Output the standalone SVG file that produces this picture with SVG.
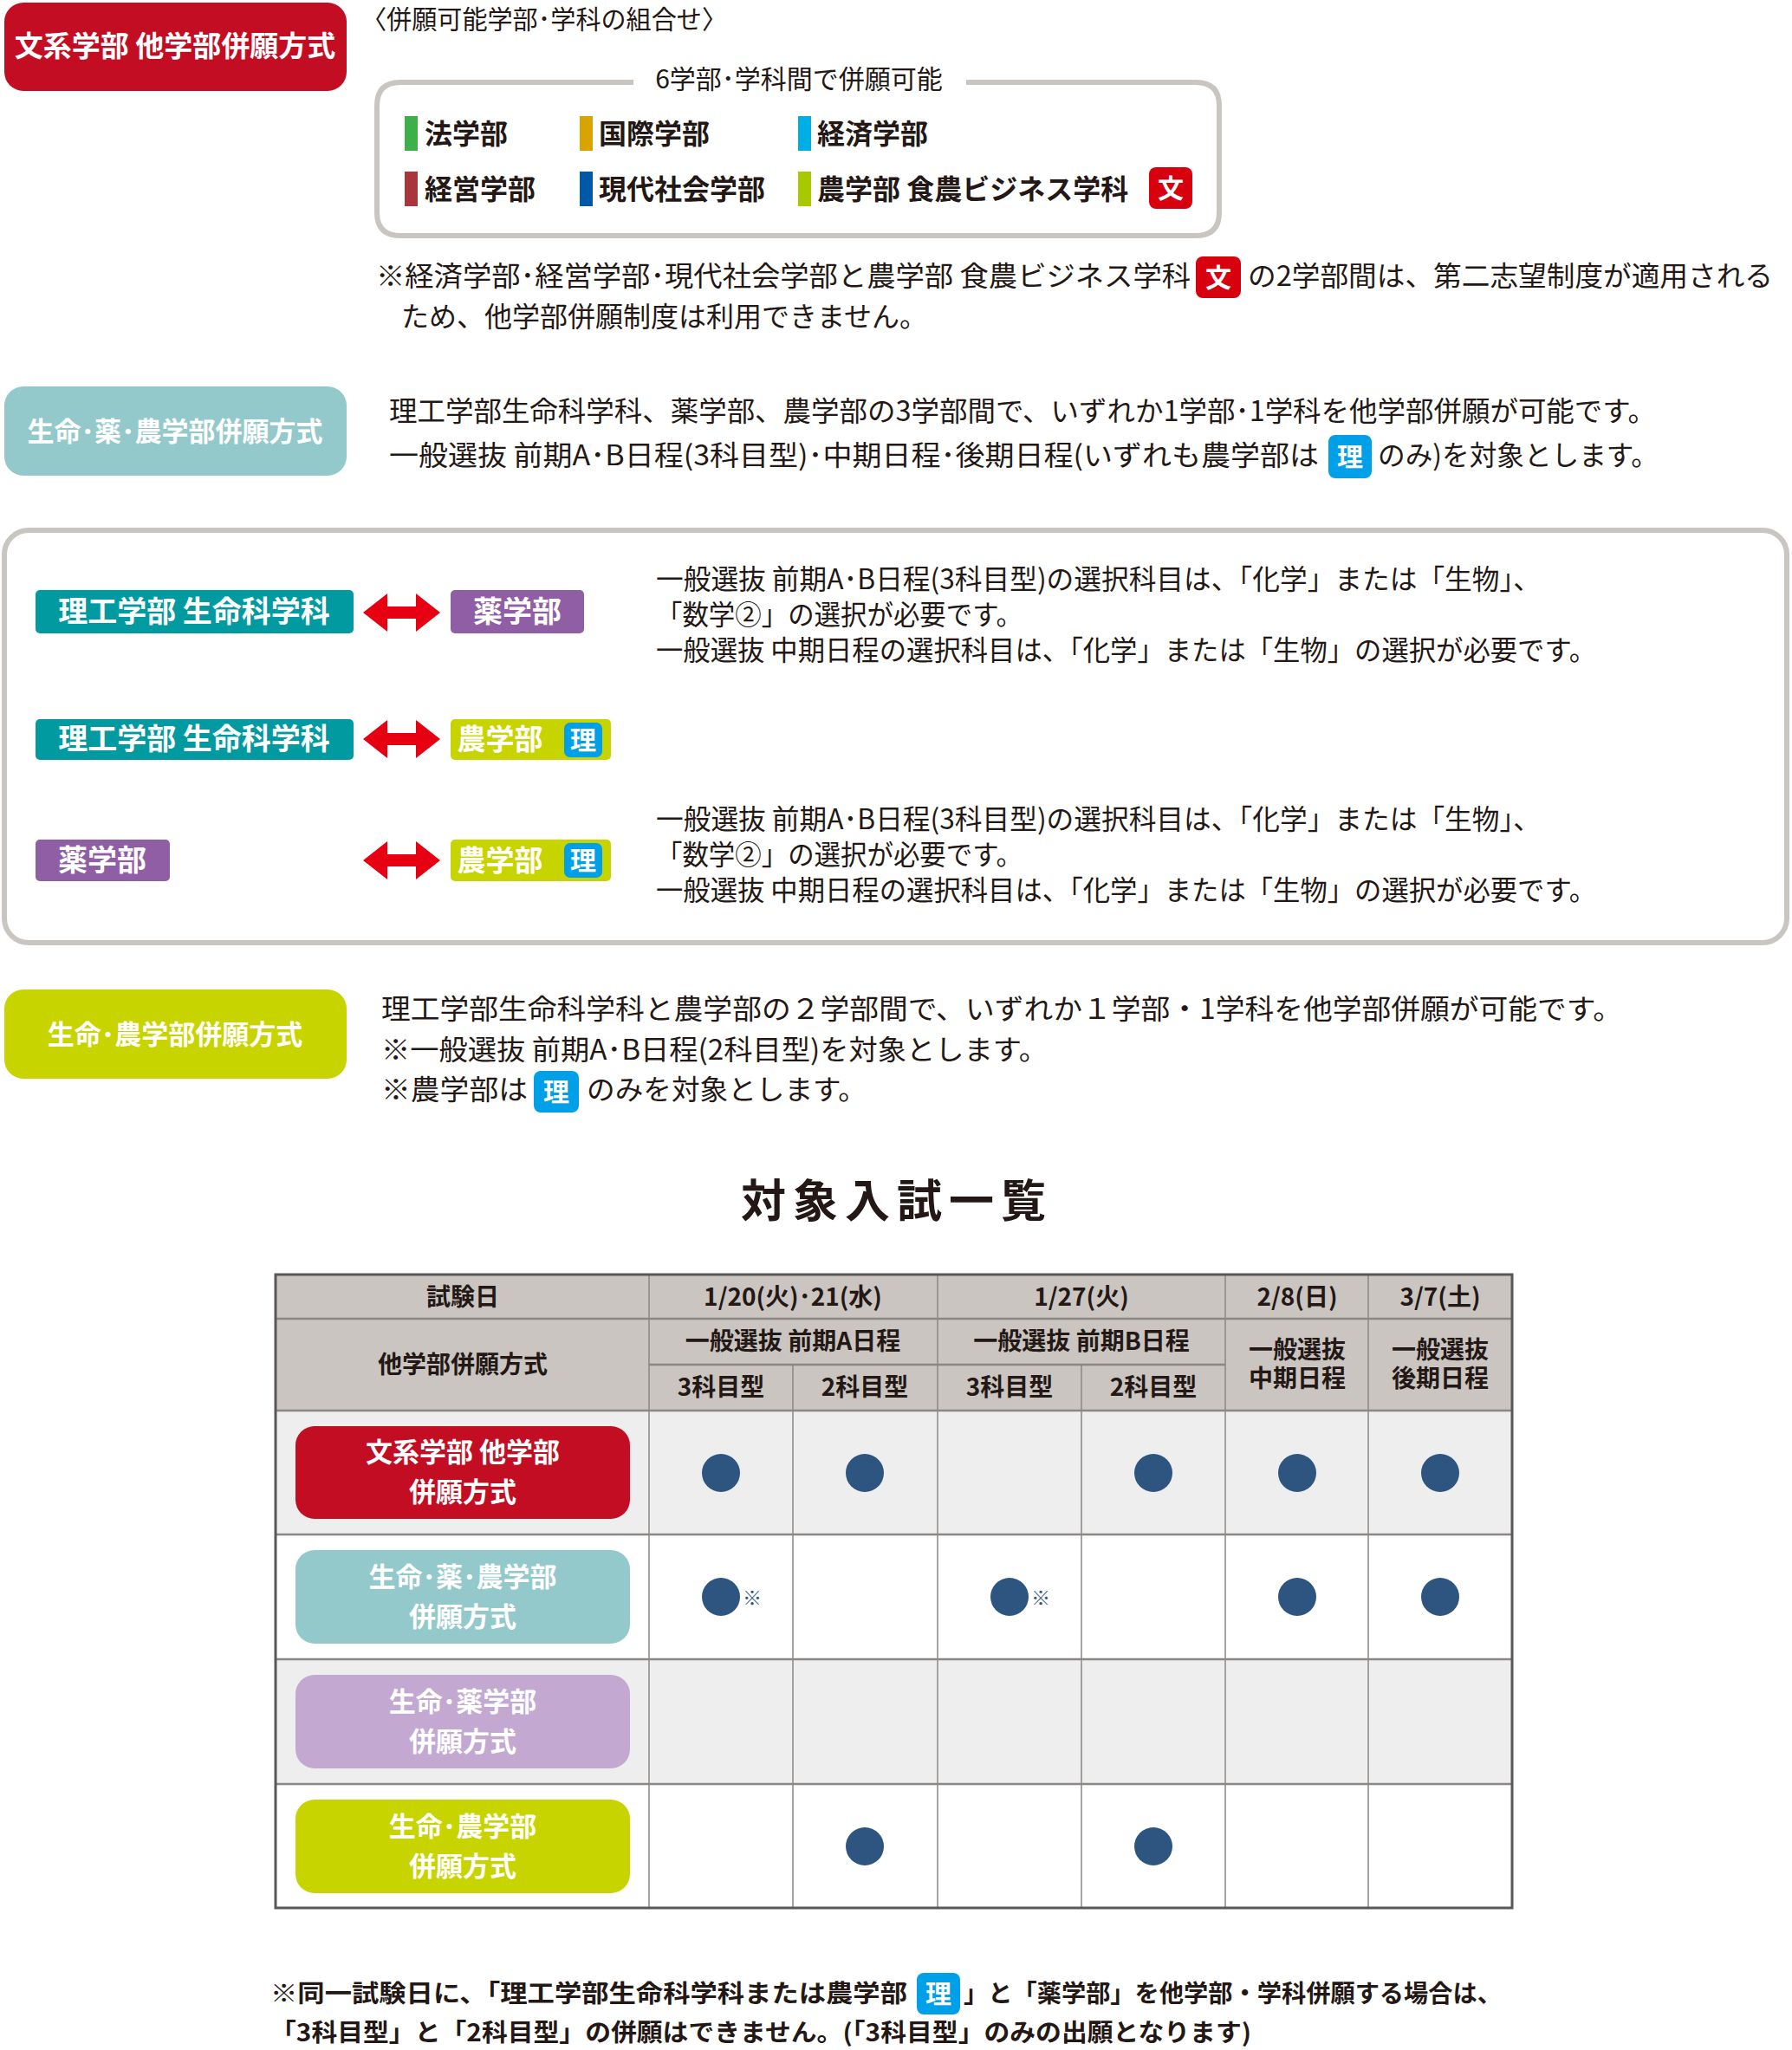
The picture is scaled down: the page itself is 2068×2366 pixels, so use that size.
<svg xmlns="http://www.w3.org/2000/svg" width="2068" height="2366" viewBox="0 0 2068 2366">
<style>
text{font-family:"Noto Sans CJK JP","Noto Sans",sans-serif;fill:#231815}
.w{fill:#fff;font-weight:700}
.b{font-weight:700}
.t{font-size:32px}
.h{font-size:28px;font-weight:700;text-anchor:middle}
.bd{fill:#fff;font-weight:700;font-size:30px;text-anchor:middle}
.dot{fill:#2d5580}
</style>
<defs>
<path id="arr" d="M0,0 L28,-22 L28,-7 L61,-7 L61,-22 L89,0 L61,22 L61,7 L28,7 L28,22 Z" fill="#e60012"/>
</defs>
<rect width="2068" height="2366" fill="#fff"/>

<g id="bunkei">
<rect x="5" y="3" width="395" height="102" rx="22" fill="#c30d23"/>
<text class="w" x="202" y="65" font-size="33" text-anchor="middle">文系学部 他学部併願方式</text>
<text x="417" y="33" font-size="30" textLength="422" lengthAdjust="spacingAndGlyphs">〈併願可能学部･学科の組合せ〉</text>
<path d="M731,95 L462,95 Q435,95 435,122 L435,245 Q435,272 462,272 L1380,272 Q1407,272 1407,245 L1407,122 Q1407,95 1380,95 L1115,95" fill="none" stroke="#c9c5c1" stroke-width="6"/>
<text x="922" y="102" font-size="30" text-anchor="middle">6学部･学科間で併願可能</text>
<rect x="467" y="134" width="15" height="40" fill="#3db049"/><text class="b" x="490" y="166" font-size="32">法学部</text>
<rect x="669" y="134" width="15" height="40" fill="#d9a400"/><text class="b" x="691" y="166" font-size="32">国際学部</text>
<rect x="921" y="134" width="15" height="40" fill="#00aee6"/><text class="b" x="943" y="166" font-size="32">経済学部</text>
<rect x="467" y="198" width="15" height="40" fill="#a8373b"/><text class="b" x="490" y="230" font-size="32">経営学部</text>
<rect x="669" y="198" width="15" height="40" fill="#0058a8"/><text class="b" x="691" y="230" font-size="32">現代社会学部</text>
<rect x="921" y="198" width="15" height="40" fill="#a8c800"/><text class="b" x="943" y="230" font-size="32">農学部 食農ビジネス学科</text>
<rect x="1326" y="193" width="50" height="48" rx="8" fill="#d7000f"/><text class="bd" x="1351" y="228" font-size="32">文</text>
<text class="t" x="434" y="330" textLength="940" lengthAdjust="spacingAndGlyphs">※経済学部･経営学部･現代社会学部と農学部 食農ビジネス学科</text>
<rect x="1380" y="296" width="52" height="48" rx="8" fill="#d7000f"/><text class="bd" x="1406" y="331" font-size="32">文</text>
<text class="t" x="1440" y="330" textLength="606" lengthAdjust="spacingAndGlyphs">の2学部間は、第二志望制度が適用される</text>
<text class="t" x="463" y="377" textLength="607" lengthAdjust="spacingAndGlyphs">ため、他学部併願制度は利用できません。</text>
</g>

<g id="seimei-yaku-no">
<rect x="5" y="446" width="395" height="103" rx="22" fill="#94c9cb"/>
<text class="w" x="202" y="509" font-size="31" text-anchor="middle">生命･薬･農学部併願方式</text>
<text class="t" x="449" y="486" textLength="1462" lengthAdjust="spacingAndGlyphs">理工学部生命科学科、薬学部、農学部の3学部間で、いずれか1学部･1学科を他学部併願が可能です。</text>
<text class="t" x="449" y="537" textLength="1073" lengthAdjust="spacingAndGlyphs">一般選抜 前期A･B日程(3科目型)･中期日程･後期日程(いずれも農学部は</text>
<rect x="1533" y="502" width="50" height="50" rx="8" fill="#00a0e9"/><text class="bd" x="1558" y="538" font-size="32">理</text>
<text class="t" x="1590" y="537" textLength="324" lengthAdjust="spacingAndGlyphs">のみ)を対象とします。</text>
</g>

<g id="pairs">
<rect x="5" y="612" width="2057" height="476" rx="28" fill="none" stroke="#c9c5c1" stroke-width="6"/>
<rect x="41" y="681" width="367" height="50" rx="5" fill="#009aa0"/><text class="w" x="224" y="718" font-size="34" text-anchor="middle">理工学部 生命科学科</text>
<rect x="520" y="681" width="154" height="50" rx="5" fill="#8f5ea4"/><text class="w" x="597" y="718" font-size="34" text-anchor="middle">薬学部</text>
<text class="t" x="757" y="680" textLength="1021" lengthAdjust="spacingAndGlyphs">一般選抜 前期A･B日程(3科目型)の選択科目は、「化学」または「生物」、</text>
<text class="t" x="757" y="721" textLength="423" lengthAdjust="spacingAndGlyphs">「数学②」の選択が必要です。</text>
<text class="t" x="757" y="762" textLength="1085" lengthAdjust="spacingAndGlyphs">一般選抜 中期日程の選択科目は、「化学」または「生物」の選択が必要です。</text>

<rect x="41" y="830" width="367" height="47" rx="5" fill="#009aa0"/><text class="w" x="224" y="865" font-size="34" text-anchor="middle">理工学部 生命科学科</text>
<rect x="520" y="830" width="185" height="47" rx="5" fill="#c8d400"/><text class="w" x="577" y="865" font-size="33" text-anchor="middle">農学部</text>
<rect x="651" y="834" width="44" height="40" rx="7" fill="#00a0e9"/><text class="bd" x="673" y="865" font-size="30">理</text>

<rect x="41" y="969" width="155" height="48" rx="5" fill="#8f5ea4"/><text class="w" x="118" y="1005" font-size="34" text-anchor="middle">薬学部</text>
<rect x="520" y="969" width="185" height="48" rx="5" fill="#c8d400"/><text class="w" x="577" y="1005" font-size="33" text-anchor="middle">農学部</text>
<rect x="651" y="973" width="44" height="40" rx="7" fill="#00a0e9"/><text class="bd" x="673" y="1004" font-size="30">理</text>
<text class="t" x="757" y="957" textLength="1021" lengthAdjust="spacingAndGlyphs">一般選抜 前期A･B日程(3科目型)の選択科目は、「化学」または「生物」、</text>
<text class="t" x="757" y="998" textLength="423" lengthAdjust="spacingAndGlyphs">「数学②」の選択が必要です。</text>
<text class="t" x="757" y="1039" textLength="1085" lengthAdjust="spacingAndGlyphs">一般選抜 中期日程の選択科目は、「化学」または「生物」の選択が必要です。</text>
</g>

<g id="connectors">
<use href="#arr" x="419" y="707"/>
<use href="#arr" x="419" y="853"/>
<use href="#arr" x="419" y="993"/>
</g>

<g id="seimei-no">
<rect x="5" y="1142" width="395" height="103" rx="22" fill="#c8d400"/>
<text class="w" x="202" y="1205" font-size="31" text-anchor="middle">生命･農学部併願方式</text>
<text class="t" x="440" y="1176" textLength="1432" lengthAdjust="spacingAndGlyphs">理工学部生命科学科と農学部の２学部間で、いずれか１学部・1学科を他学部併願が可能です。</text>
<text class="t" x="440" y="1223" textLength="769" lengthAdjust="spacingAndGlyphs">※一般選抜 前期A･B日程(2科目型)を対象とします。</text>
<text class="t" x="440" y="1269" textLength="169" lengthAdjust="spacingAndGlyphs">※農学部は</text>
<rect x="616" y="1236" width="52" height="48" rx="8" fill="#00a0e9"/><text class="bd" x="642" y="1271" font-size="32">理</text>
<text class="t" x="677" y="1269" textLength="323" lengthAdjust="spacingAndGlyphs">のみを対象とします。</text>
</g>

<g id="table">
<text class="b" x="1035" y="1405" font-size="52" text-anchor="middle" letter-spacing="8">対象入試一覧</text>
<rect x="318" y="1471" width="1427" height="157" fill="#cac5c0"/>
<rect x="318" y="1628" width="1427" height="143" fill="#eeeeee"/>
<rect x="318" y="1915" width="1427" height="144" fill="#eeeeee"/>
<g stroke="#8a8784" stroke-width="1.5">
<line x1="749" y1="1471" x2="749" y2="2202"/>
<line x1="915" y1="1575" x2="915" y2="2202"/>
<line x1="1082" y1="1471" x2="1082" y2="2202"/>
<line x1="1248" y1="1575" x2="1248" y2="2202"/>
<line x1="1414" y1="1471" x2="1414" y2="2202"/>
<line x1="1579" y1="1471" x2="1579" y2="2202"/>
<line x1="749" y1="1575" x2="1414" y2="1575" stroke-width="2.5"/>
<line x1="318" y1="1522" x2="1745" y2="1522" stroke-width="2.5"/>
<line x1="318" y1="1628" x2="1745" y2="1628" stroke-width="2.5"/>
<line x1="318" y1="1771" x2="1745" y2="1771" stroke-width="2.5"/>
<line x1="318" y1="1915" x2="1745" y2="1915" stroke-width="2.5"/>
<line x1="318" y1="2059" x2="1745" y2="2059" stroke-width="2.5"/>
</g>
<rect x="318" y="1471" width="1427" height="731" fill="none" stroke="#5a5856" stroke-width="3"/>
<text class="h" x="534" y="1507">試験日</text>
<text class="h" x="915" y="1507">1/20(火)･21(水)</text>
<text class="h" x="1248" y="1507">1/27(火)</text>
<text class="h" x="1497" y="1507">2/8(日)</text>
<text class="h" x="1662" y="1507">3/7(土)</text>
<text class="h" x="534" y="1585">他学部併願方式</text>
<text class="h" x="915" y="1558">一般選抜 前期A日程</text>
<text class="h" x="1248" y="1558">一般選抜 前期B日程</text>
<text class="h" x="832" y="1611">3科目型</text>
<text class="h" x="998" y="1611">2科目型</text>
<text class="h" x="1165" y="1611">3科目型</text>
<text class="h" x="1331" y="1611">2科目型</text>
<text class="h" x="1497" y="1568" font-size="27">一般選抜</text><text class="h" x="1497" y="1601" font-size="27">中期日程</text>
<text class="h" x="1662" y="1568" font-size="27">一般選抜</text><text class="h" x="1662" y="1601" font-size="27">後期日程</text>
</g>

<g id="row-bunkei">
<rect x="341" y="1646" width="386" height="107" rx="22" fill="#c30d23"/>
<text class="w" x="534" y="1687" font-size="31" text-anchor="middle">文系学部 他学部</text>
<text class="w" x="534" y="1733" font-size="31" text-anchor="middle">併願方式</text>
<circle class="dot" cx="832" cy="1700" r="22"/><circle class="dot" cx="998" cy="1700" r="22"/><circle class="dot" cx="1331" cy="1700" r="22"/><circle class="dot" cx="1497" cy="1700" r="22"/><circle class="dot" cx="1662" cy="1700" r="22"/>
</g>
<g id="row-seimei-yaku-no">
<rect x="341" y="1789" width="386" height="108" rx="22" fill="#94c9cb"/>
<text class="w" x="534" y="1831" font-size="31" text-anchor="middle">生命･薬･農学部</text>
<text class="w" x="534" y="1877" font-size="31" text-anchor="middle">併願方式</text>
<circle class="dot" cx="832" cy="1843" r="22"/><text x="857" y="1852" font-size="22" style="fill:#2d5580">※</text>
<circle class="dot" cx="1165" cy="1843" r="22"/><text x="1190" y="1852" font-size="22" style="fill:#2d5580">※</text>
<circle class="dot" cx="1497" cy="1843" r="22"/><circle class="dot" cx="1662" cy="1843" r="22"/>
</g>
<g id="row-seimei-yaku">
<rect x="341" y="1933" width="386" height="108" rx="22" fill="#c3a9d1"/>
<text class="w" x="534" y="1975" font-size="31" text-anchor="middle">生命･薬学部</text>
<text class="w" x="534" y="2021" font-size="31" text-anchor="middle">併願方式</text>
</g>
<g id="row-seimei-no">
<rect x="341" y="2077" width="386" height="108" rx="22" fill="#c8d400"/>
<text class="w" x="534" y="2119" font-size="31" text-anchor="middle">生命･農学部</text>
<text class="w" x="534" y="2165" font-size="31" text-anchor="middle">併願方式</text>
<circle class="dot" cx="998" cy="2131" r="22"/><circle class="dot" cx="1331" cy="2131" r="22"/>
</g>

<g id="footnote">
<text class="b" x="312" y="2311" font-size="28" textLength="735" lengthAdjust="spacingAndGlyphs">※同一試験日に、「理工学部生命科学科または農学部</text>
<rect x="1058" y="2277" width="50" height="48" rx="8" fill="#00a0e9"/><text class="bd" x="1083" y="2312" font-size="32">理</text>
<text class="b" x="1112" y="2311" font-size="28" textLength="621" lengthAdjust="spacingAndGlyphs">」と「薬学部」を他学部・学科併願する場合は、</text>
<text class="b" x="312" y="2356" font-size="28" textLength="1132" lengthAdjust="spacingAndGlyphs">「3科目型」と「2科目型」の併願はできません。(「3科目型」のみの出願となります)</text>
</g>
</svg>
